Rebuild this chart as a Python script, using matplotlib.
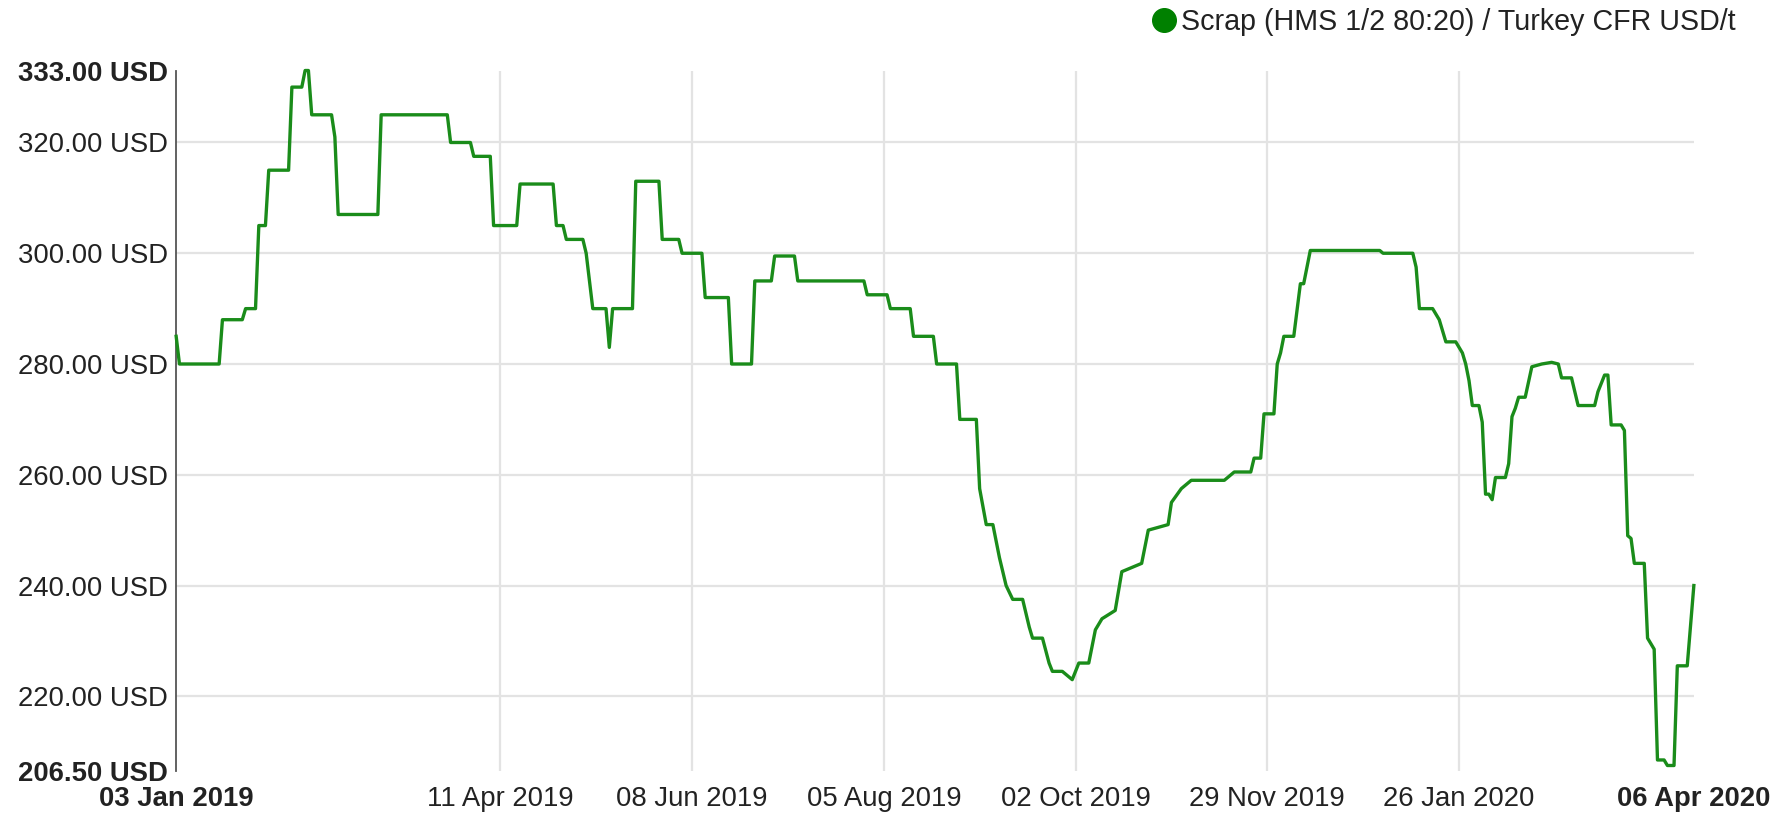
import numpy as np
import pandas as pd
import matplotlib
matplotlib.use("Agg")
import matplotlib.pyplot as plt
from matplotlib.lines import Line2D

# scrap price, turning points (USD/t)
dates = [
    "2019-01-03", "2019-01-04", "2019-01-16", "2019-01-17", "2019-01-23", "2019-01-24",
    "2019-01-27", "2019-01-28", "2019-01-30", "2019-01-31", "2019-02-06", "2019-02-07",
    "2019-02-10", "2019-02-11", "2019-02-12", "2019-02-13", "2019-02-19", "2019-02-20",
    "2019-02-21", "2019-03-05", "2019-03-06", "2019-03-26", "2019-03-27", "2019-04-02",
    "2019-04-03", "2019-04-08", "2019-04-09", "2019-04-16", "2019-04-17", "2019-04-27",
    "2019-04-28", "2019-04-30", "2019-05-01", "2019-05-06", "2019-05-07", "2019-05-09",
    "2019-05-13", "2019-05-14", "2019-05-15", "2019-05-21", "2019-05-22", "2019-05-29",
    "2019-05-30", "2019-06-04", "2019-06-05", "2019-06-11", "2019-06-12", "2019-06-19",
    "2019-06-20", "2019-06-26", "2019-06-27", "2019-07-02", "2019-07-03", "2019-07-09",
    "2019-07-10", "2019-07-30", "2019-07-31", "2019-08-06", "2019-08-07", "2019-08-13",
    "2019-08-14", "2019-08-20", "2019-08-21", "2019-08-27", "2019-08-28", "2019-09-02",
    "2019-09-03", "2019-09-05", "2019-09-07", "2019-09-09", "2019-09-11", "2019-09-13",
    "2019-09-16", "2019-09-18", "2019-09-19", "2019-09-22", "2019-09-24", "2019-09-25",
    "2019-09-28", "2019-10-01", "2019-10-03", "2019-10-06", "2019-10-08", "2019-10-10",
    "2019-10-14", "2019-10-16", "2019-10-22", "2019-10-24", "2019-10-30", "2019-10-31",
    "2019-11-03", "2019-11-06", "2019-11-16", "2019-11-19", "2019-11-24", "2019-11-25",
    "2019-11-27", "2019-11-28", "2019-12-01", "2019-12-02", "2019-12-03", "2019-12-04",
    "2019-12-07", "2019-12-09", "2019-12-10", "2019-12-12", "2020-01-02", "2020-01-03",
    "2020-01-12", "2020-01-13", "2020-01-14", "2020-01-18", "2020-01-20", "2020-01-22",
    "2020-01-25", "2020-01-27", "2020-01-28", "2020-01-29", "2020-01-30", "2020-02-01",
    "2020-02-02", "2020-02-03", "2020-02-04", "2020-02-05", "2020-02-06", "2020-02-09",
    "2020-02-10", "2020-02-11", "2020-02-12", "2020-02-13", "2020-02-15", "2020-02-17",
    "2020-02-20", "2020-02-23", "2020-02-25", "2020-02-26", "2020-02-29", "2020-03-02",
    "2020-03-07", "2020-03-08", "2020-03-10", "2020-03-11", "2020-03-12", "2020-03-15",
    "2020-03-16", "2020-03-17", "2020-03-18", "2020-03-19", "2020-03-22", "2020-03-23",
    "2020-03-25", "2020-03-26", "2020-03-28", "2020-03-29", "2020-03-31", "2020-04-01",
    "2020-04-04", "2020-04-06",
]
prices = [
    285, 280, 280, 288, 288, 290,
    290, 305, 305, 315, 315, 330,
    330, 333, 333, 325, 325, 321,
    307, 307, 325, 325, 320, 320,
    317.5, 317.5, 305, 305, 312.5, 312.5,
    305, 305, 302.5, 302.5, 300, 290,
    290, 283, 290, 290, 313, 313,
    302.5, 302.5, 300, 300, 292, 292,
    280, 280, 295, 295, 299.5, 299.5,
    295, 295, 292.5, 292.5, 290, 290,
    285, 285, 280, 280, 270, 270,
    257.5, 251, 251, 245, 240, 237.5,
    237.5, 232.5, 230.5, 230.5, 226, 224.5,
    224.5, 223, 226, 226, 232, 234,
    235.5, 242.5, 244, 250, 251, 255,
    257.5, 259, 259, 260.5, 260.5, 263,
    263, 271, 271, 280, 282, 285,
    285, 294.5, 294.5, 300.5, 300.5, 300,
    300, 297.5, 290, 290, 288, 284,
    284, 282, 280, 277, 272.5, 272.5,
    269.5, 256.5, 256.5, 255.5, 259.5, 259.5,
    262, 270.5, 272, 274, 274, 279.5,
    280, 280.3, 280, 277.5, 277.5, 272.5,
    272.5, 275, 278, 278, 269, 269,
    268, 249, 248.5, 244, 244, 230.5,
    228.5, 208.5, 208.5, 207.5, 207.5, 225.5,
    225.5, 240,
]

tick_dates = ["2019-01-03", "2019-04-11", "2019-06-08", "2019-08-05",
              "2019-10-02", "2019-11-29", "2020-01-26", "2020-04-06"]
tick_labels = ["03 Jan 2019", "11 Apr 2019", "08 Jun 2019", "05 Aug 2019",
               "02 Oct 2019", "29 Nov 2019", "26 Jan 2020", "06 Apr 2020"]
y_ticks = [206.5, 220, 240, 260, 280, 300, 320, 333]
series_name = "Scrap (HMS 1/2 80:20) / Turkey CFR USD/t"

plt.rcParams['font.family'] = ['Liberation Sans', 'DejaVu Sans']

fig = plt.figure(figsize=(17.83, 8.16), dpi=100)
ax = fig.add_axes([0.0988, 0.0551, 0.8512, 0.8585])

x = pd.to_datetime(dates)
xt = pd.to_datetime(tick_dates)

# grid lines only on the inner ticks
for d in xt[1:-1]:
    ax.axvline(d, color='#e3e3e3', lw=1.6, zorder=1)
for v in y_ticks[1:-1]:
    ax.axhline(v, color='#e3e3e3', lw=1.6, zorder=1)

ax.plot(x, prices, color='#1a8c1a', lw=2.4, zorder=3, clip_on=False)

ax.set_xlim(xt[0], xt[-1])
ax.set_ylim(y_ticks[0], y_ticks[-1])

ax.set_xticks(xt)
ax.set_xticklabels(tick_labels)
ax.set_yticks(y_ticks)
ax.set_yticklabels(["%.2f USD" % v for v in y_ticks])
ax.tick_params(axis='both', length=0, labelsize=19.8, colors='#222222')
ax.tick_params(axis='y', pad=6)
ax.tick_params(axis='x', pad=11)
for lab in [ax.get_xticklabels()[0], ax.get_xticklabels()[-1],
            ax.get_yticklabels()[0], ax.get_yticklabels()[-1]]:
    lab.set_fontweight('bold')

for s in ['top', 'right', 'bottom']:
    ax.spines[s].set_visible(False)
ax.spines['left'].set_color('#555555')
ax.spines['left'].set_linewidth(1.3)

handle = Line2D([], [], marker='o', color='#008000', linestyle='none', markersize=17)
ax.legend(handles=[handle], labels=[series_name], loc='center right',
          bbox_to_anchor=(1750 / 1783, 1 - 22 / 816), bbox_transform=fig.transFigure,
          frameon=False, fontsize=20.6, handletextpad=0.1, borderpad=0,
          handlelength=1.0, labelcolor='#222222')

fig.savefig('out.png', dpi=100)
